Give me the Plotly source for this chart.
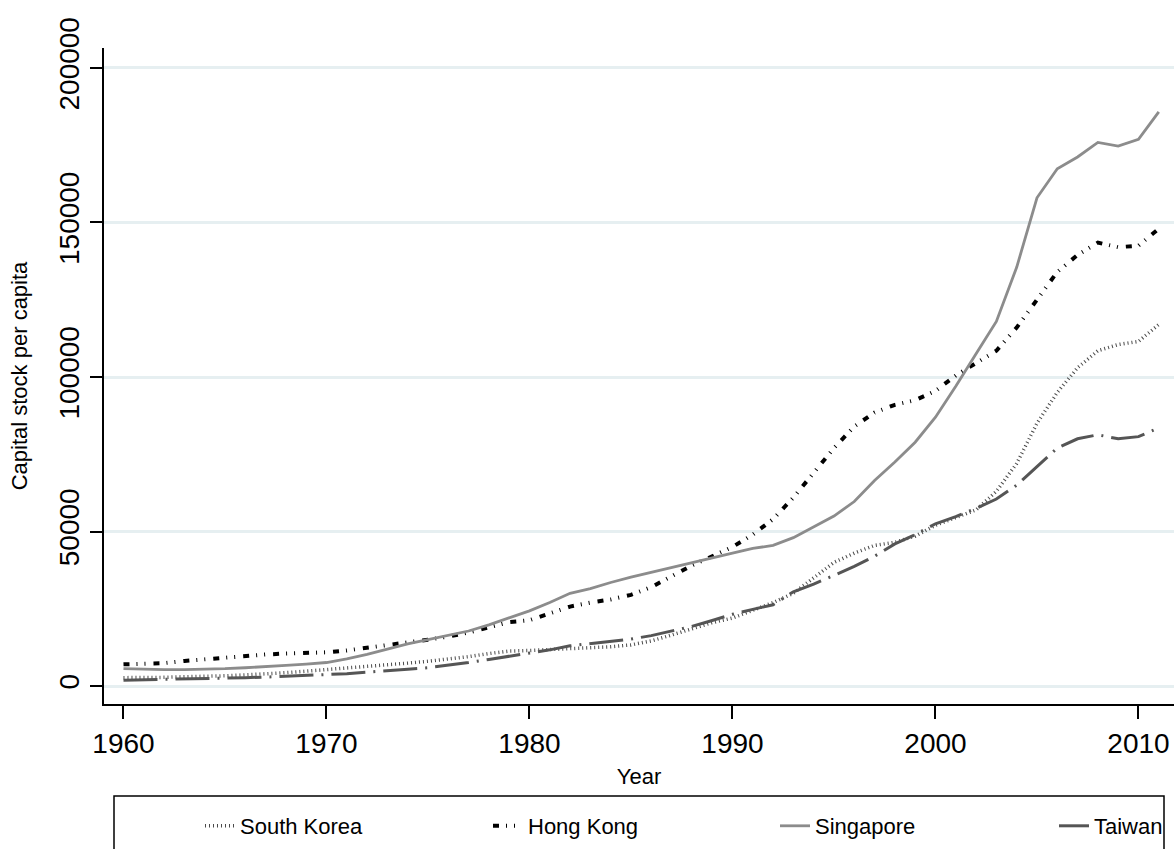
import plotly.graph_objects as go

years = list(range(1960, 2012))

south_korea = [2700, 2700, 2800, 3000, 3100, 3300, 3600, 3900, 4300, 4800,
               5300, 5800, 6200, 6700, 7400, 8000, 8700, 9500, 10500, 11300,
               11500, 11800, 12000, 12300, 12700, 13300, 14600, 16500, 18500, 20500,
               22000, 24500, 27000, 30000, 35000, 40000, 43000, 45500, 46500, 48500,
               52000, 54500, 57000, 63000, 72000, 85000, 95000, 103000, 108500, 110500,
               111500, 117000]

hong_kong = [7000, 7100, 7400, 8100, 8700, 9300, 9900, 10200, 10500, 10700,
             10900, 11500, 12300, 13200, 14000, 15000, 16000, 17300, 19000, 20700,
             21300, 23500, 25700, 27000, 28000, 29500, 32000, 35500, 39000, 42000,
             45000, 49000, 54000, 61000, 69000, 77000, 84000, 88500, 91000, 92500,
             95500, 100500, 104500, 108500, 116000, 125000, 134000, 139500, 143500, 142000,
             142500, 148000]

singapore = [5600, 5400, 5300, 5300, 5400, 5600, 5900, 6200, 6700, 7100,
             7600, 8800, 10200, 11900, 13600, 15000, 16300, 17800, 19800, 22000,
             24300, 27000, 30000, 31500, 33500, 35200, 36800, 38200, 39800, 41500,
             43000, 44500, 45500, 48000, 51500, 55000, 59700, 66500, 72500, 78900,
             87000, 97000, 107500, 118000, 135500, 158000, 167400, 171200, 175900, 174700,
             176900, 185800]

taiwan = [1900, 2000, 2100, 2200, 2300, 2500, 2700, 2900, 3100, 3400,
          3700, 4000, 4400, 4900, 5400, 5900, 6700, 7600, 8600, 9600,
          10500, 11700, 13000, 13800, 14500, 15200, 16300, 17800, 19300, 21200,
          23200, 24800, 26300, 30500, 33000, 35800, 38700, 42000, 46000, 49000,
          52500, 54800, 57500, 60500, 65000, 71000, 77000, 80000, 81300, 80000,
          80700, 83500]

series_names = ["South Korea", "Hong Kong", "Singapore", "Taiwan"]
x_ticks = [1960, 1970, 1980, 1990, 2000, 2010]
y_ticks = [0, 50000, 100000, 150000, 200000]

FONT = "Liberation Sans, Arial, sans-serif"

W, H = 1174, 849
ML, MR, MT, MB = 104, 0, 48, 145
PW = W - ML - MR
PH = H - MT - MB


def px(x):
    return (x - ML) / PW


def py(y):
    return (H - MB - y) / PH


styles = {
    "South Korea": dict(color="#4a4a4a", width=3.5, dash="1px,3px"),
    "Hong Kong": dict(color="#000000", width=4, dash="6px,7px,1px,7px,1px,8px"),
    "Singapore": dict(color="#8c8c8c", width=2.8, dash="solid"),
    "Taiwan": dict(color="#555555", width=3, dash="34px,8px,2px,8px"),
}

data = {"South Korea": south_korea, "Hong Kong": hong_kong,
        "Singapore": singapore, "Taiwan": taiwan}

legend_ids = ["legend", "legend2", "legend3", "legend4"]
legend_text_x = [240, 528, 815, 1094]

fig = go.Figure()
for name, lid in zip(series_names, legend_ids):
    fig.add_trace(go.Scatter(x=years, y=data[name], mode="lines", name=name,
                             line=styles[name], legend=lid))

legend_layout = {}
for lid, tx in zip(legend_ids, legend_text_x):
    legend_layout[lid] = dict(
        orientation="h", x=px(tx - 40), xanchor="left", y=py(826), yanchor="middle",
        font=dict(size=22, family=FONT, color="black"),
        bgcolor="rgba(0,0,0,0)", borderwidth=0)

fig.update_layout(
    template="none",
    width=W, height=H,
    margin=dict(l=ML, r=MR, t=MT, b=MB, pad=0),
    paper_bgcolor="white", plot_bgcolor="white",
    font=dict(family=FONT, color="black"),
    showlegend=True,
    shapes=[dict(type="rect", xref="paper", yref="paper",
                 x0=px(114), x1=px(1164), y0=py(796), y1=py(880),
                 line=dict(color="black", width=1.5), fillcolor="rgba(0,0,0,0)")],
    **legend_layout,
)

fig.update_xaxes(
    range=[1959.04, 2011.75], tickvals=x_ticks, ticks="outside", ticklen=13,
    tickwidth=1.5, tickcolor="black", showline=True, linecolor="black", linewidth=2,
    showgrid=False, zeroline=False, tickfont=dict(size=28, family=FONT),
    automargin=False,
    title=dict(text="Year", font=dict(size=22, family=FONT), standoff=11),
)
fig.update_yaxes(
    range=[-5825, 206470], tickvals=y_ticks, tickformat="d", ticks="outside",
    ticklen=12, tickwidth=1.5, tickcolor="black", showline=True, linecolor="black",
    linewidth=2, showgrid=True, gridcolor="#e6eff1", gridwidth=2.5, zeroline=False,
    tickangle=-90, tickfont=dict(size=28, family=FONT), automargin=False,
    title=dict(text="Capital stock per capita", font=dict(size=22, family=FONT),
               standoff=20),
)

fig.write_html(
    "out.html",
    config={"displayModeBar": False},
    post_script=("document.body.style.margin='0';"
                 "document.body.style.overflow='hidden';"
                 "document.documentElement.style.overflow='hidden';"),
)
